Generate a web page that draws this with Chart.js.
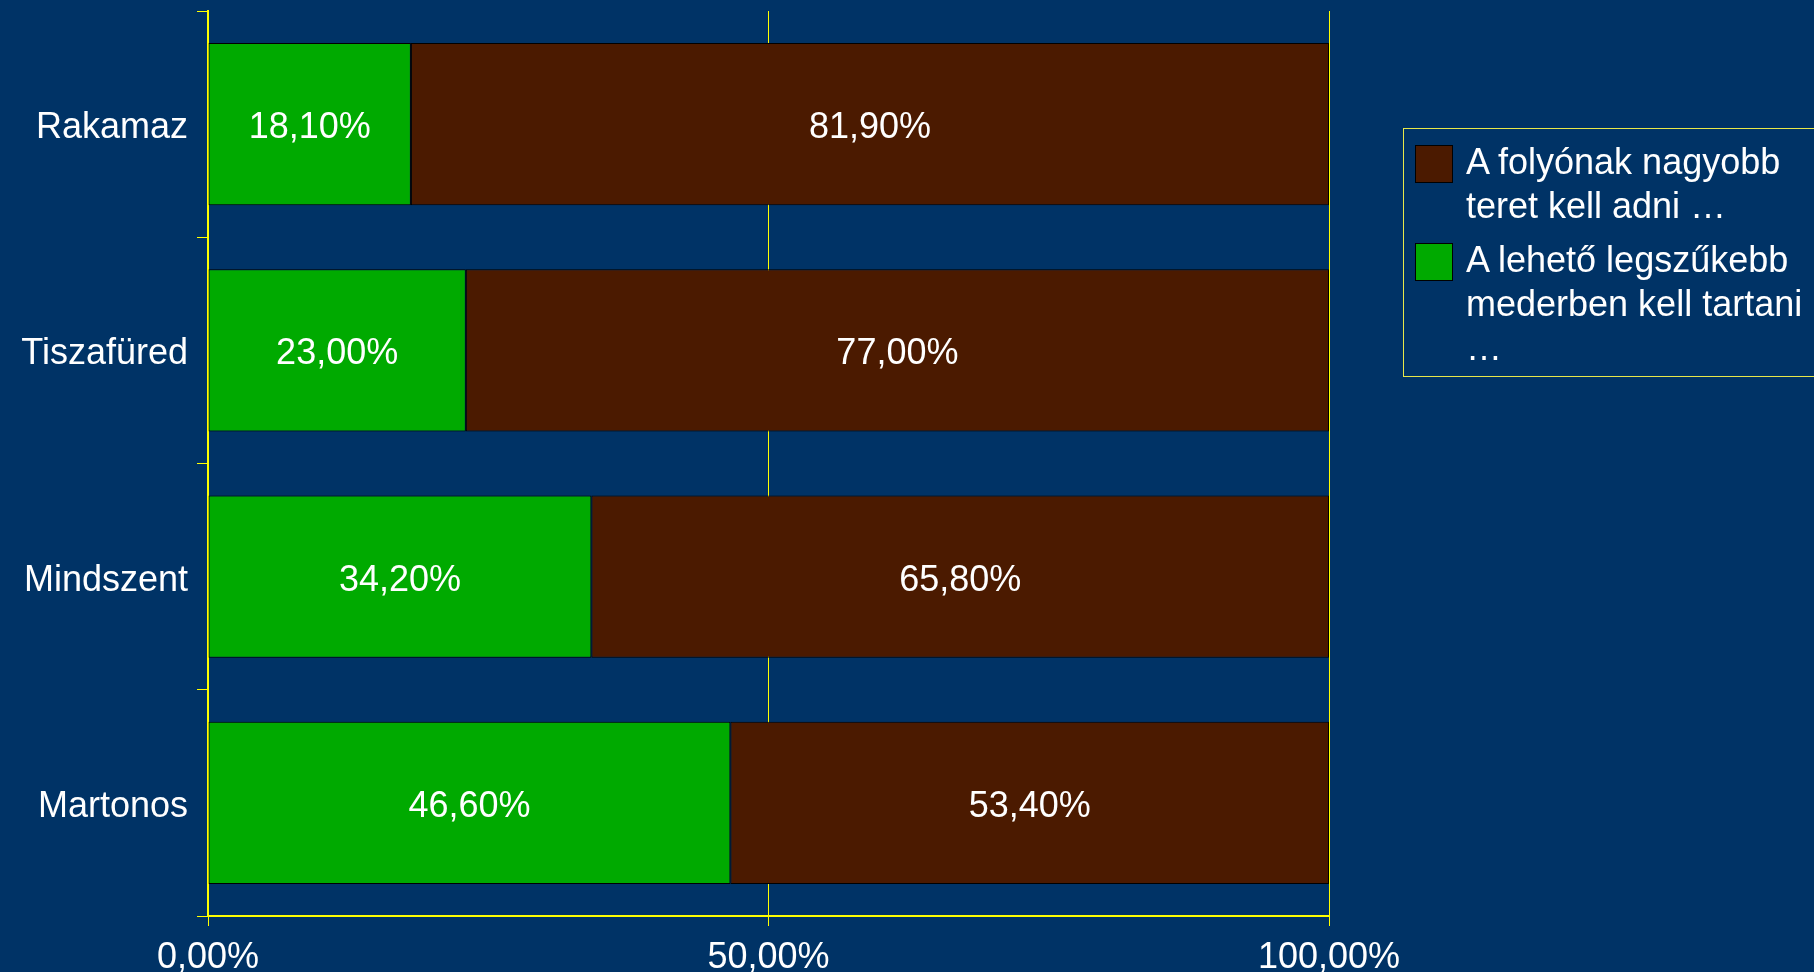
<!DOCTYPE html>
<html>
<head>
<meta charset="utf-8">
<script src="https://cdn.jsdelivr.net/npm/chart.js@4"></script>
<style>
  html, body { margin: 0; padding: 0; background: #003366; overflow: hidden; }
  #wrap { position: relative; width: 1814px; height: 972px; }
  #legend {
    position: absolute; left: 1403px; top: 128px; width: 430px; height: 249px;
    border: 1px solid #e8e84a; box-sizing: border-box; padding: 11px 0 0 11px;
    font: 36px "Liberation Sans", Arial, sans-serif; line-height: 44px; color: #fff;
  }
  .item { display: flex; margin-bottom: 10px; }
  .swatch { width: 36px; height: 36px; border: 1px solid #000; margin: 5px 13px 0 0; flex: none; }
</style>
</head>
<body>
<div id="wrap">
  <canvas id="chart" width="1814" height="972"></canvas>
  <div id="legend"></div>
</div>
<script>
const fontFamily = '"Liberation Sans", Arial, sans-serif';
const axisColor = "#ffff00";

// data
const places = ["Rakamaz", "Tiszafüred", "Mindszent", "Martonos"];
const narrowValues = [18.1, 23.0, 34.2, 46.6];
const widerValues = [81.9, 77.0, 65.8, 53.4];
const xTicks = [0, 50, 100];

const narrowName = ["A lehető legszűkebb", "mederben kell tartani", "…"];
const widerName = ["A folyónak nagyobb", "teret kell adni …"];

const narrowColor = "#00aa00";
const widerColor = "#4b1a00";

function pct(v) {
  return v.toFixed(2).replace(".", ",") + "%";
}

// writes the value in the middle of every bar piece
const barLabels = {
  id: "barLabels",
  afterDatasetsDraw(chart) {
    const ctx = chart.ctx;
    ctx.save();
    ctx.fillStyle = "#fff";
    ctx.font = "36px " + fontFamily;
    ctx.textAlign = "center";
    ctx.textBaseline = "middle";
    chart.data.datasets.forEach((ds, i) => {
      chart.getDatasetMeta(i).data.forEach((bar, j) => {
        const x = (bar.x + bar.base) / 2;
        ctx.fillText(pct(ds.data[j]), x, bar.y + 4);
      });
    });
    ctx.restore();
  },
};

const chart = new Chart(document.querySelector("#chart"), {
  type: "bar",
  data: {
    labels: places,
    datasets: [
      {
        label: narrowName,
        data: narrowValues,
        backgroundColor: narrowColor,
        borderColor: "#000",
        borderWidth: 1,
        borderSkipped: false,
      },
      {
        label: widerName,
        data: widerValues,
        backgroundColor: widerColor,
        borderColor: "#000",
        borderWidth: 1,
        borderSkipped: false,
      },
    ],
  },
  options: {
    indexAxis: "y",
    responsive: false,
    animation: false,
    events: [],
    barPercentage: 0.717,
    categoryPercentage: 1,
    layout: { padding: { top: 11, right: 485, bottom: 0, left: 0 } },
    scales: {
      x: {
        stacked: true,
        min: 0,
        max: 100,
        afterBuildTicks(scale) {
          scale.ticks = xTicks.map((v) => ({ value: v }));
        },
        afterFit(scale) {
          scale.height = 56;
        },
        border: { color: axisColor, width: 2 },
        grid: { color: axisColor, lineWidth: 1, tickLength: 10 },
        ticks: {
          color: "#fff",
          font: { family: fontFamily, size: 36 },
          padding: 10,
          callback: (v) => pct(v),
        },
      },
      y: {
        stacked: true,
        afterFit(scale) {
          scale.width = 208;
          scale.paddingTop = 0;
          scale.paddingBottom = 0;
        },
        border: { color: axisColor, width: 2 },
        grid: { color: axisColor, drawOnChartArea: false, tickLength: 11, offset: true },
        ticks: {
          color: "#fff",
          font: { family: fontFamily, size: 36 },
          padding: 9,
          labelOffset: 4,
        },
      },
    },
    plugins: {
      legend: { display: false },
      tooltip: { enabled: false },
    },
  },
  plugins: [barLabels],
});

// legend, brown series first as in the original
const legendBox = document.querySelector("#legend");
chart.data.datasets.slice().reverse().forEach((ds) => {
  const item = document.createElement("div");
  item.className = "item";
  const sw = document.createElement("div");
  sw.className = "swatch";
  sw.style.background = ds.backgroundColor;
  const text = document.createElement("div");
  text.innerHTML = ds.label.join("<br>");
  item.appendChild(sw);
  item.appendChild(text);
  legendBox.appendChild(item);
});
</script>
</body>
</html>
